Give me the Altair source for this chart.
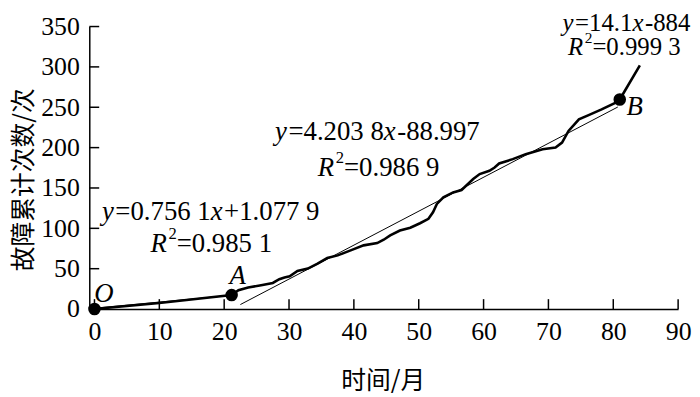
import altair as alt
import pandas as pd

# ---- data ----
months = [0, 10, 21.15, 22.2, 23.7, 25.7, 27.5, 28.5, 29.3, 30.1, 31.3, 32.9, 34.4,
          35.9, 37.5, 39.5, 41.5, 43.6, 44.6, 45.6, 47.1, 48.7, 50.2, 51.5, 52.2,
          52.8, 53.8, 55.3, 56.6, 57.3, 58.4, 59.4, 60.9, 61.7, 62.4, 64.5, 66.5,
          69.1, 71.1, 72.1, 73.1, 74.7, 76.2, 78.2, 80.3, 81.0, 84.1]
failures = [0, 7.5, 17.3, 23.4, 26.7, 29.6, 32.4, 37.0, 39.1, 40.7, 47.2, 50.2, 56.3,
            63.2, 66.5, 72.7, 78.9, 81.7, 85.9, 91.2, 97.3, 100.7, 106.3, 111.8, 119.9,
            130.3, 138.4, 144.5, 147.5, 152.8, 161.1, 167.2, 171.3, 175.4, 180.3, 185.7, 191.9,
            198.0, 200.0, 206.2, 220.6, 235.0, 240.3, 247.3, 255.5, 259.6, 301.9]

fit1_x = [0, 21.15]
fit1_y = [1.08, 17.07]
fit2_x = [22.5, 80.7]
fit2_y = [5.6, 250.3]

key_names = ["O", "A", "B"]
key_x = [0, 21.15, 81.0]
key_y = [0, 17.3, 259.6]

x_ticks = list(range(0, 91, 10))
y_ticks = list(range(0, 351, 50))

# ---- layout ----
W, H = 594, 285
SERIF = "Liberation Serif"
CJK = "Noto Sans CJK SC"

xscale = alt.Scale(domain=[-0.8, 90], nice=False, zero=False)
yscale = alt.Scale(domain=[0, 350], nice=False, zero=False)

line_df = pd.DataFrame({"month": months, "count": failures})
fit1_df = pd.DataFrame({"month": fit1_x, "count": fit1_y})
fit2_df = pd.DataFrame({"month": fit2_x, "count": fit2_y})
key_df = pd.DataFrame({"name": key_names, "month": key_x, "count": key_y})

X = alt.X("month:Q", scale=xscale,
          axis=alt.Axis(values=x_ticks, title="时间/月", titleX=296, titleY=72,
                        titleBaseline="middle", titleAlign="center", titleFontSize=25,
                        labelPadding=10, labelFlush=False))
Y = alt.Y("count:Q", scale=yscale,
          axis=alt.Axis(values=y_ticks, title="故障累计次数/次", titleX=-66, titleY=154,
                        titleAngle=-90, titleBaseline="middle", titleAlign="center",
                        titleFontSize=25, labelPadding=10, labelFlush=False))

main = alt.Chart(line_df).mark_line(color="black", strokeWidth=2.6).encode(x=X, y=Y)
fit1 = alt.Chart(fit1_df).mark_line(color="black", strokeWidth=1).encode(x=alt.X("month:Q", scale=xscale), y=alt.Y("count:Q", scale=yscale))
fit2 = alt.Chart(fit2_df).mark_line(color="black", strokeWidth=1).encode(x=alt.X("month:Q", scale=xscale), y=alt.Y("count:Q", scale=yscale))
dots = alt.Chart(key_df).mark_point(filled=True, color="black", size=160, opacity=1).encode(
    x=alt.X("month:Q", scale=xscale), y=alt.Y("count:Q", scale=yscale))

ytick_df = pd.DataFrame({"v": y_ticks})
xtick_df = pd.DataFrame({"v": x_ticks})
yticks = alt.Chart(ytick_df).mark_rule(color="black", strokeWidth=1.5).encode(
    y=alt.Y("v:Q", scale=yscale), x=alt.value(0), x2=alt.value(10))
xticks = alt.Chart(xtick_df).mark_rule(color="black", strokeWidth=1.5).encode(
    x=alt.X("v:Q", scale=xscale), y=alt.value(H), y2=alt.value(H - 10))

# ---- annotations (mixed italic / roman pieces) ----
RM = {**{str(d): 500 for d in range(10)}, ".": 250, " ": 250, "=": 564, "+": 564, "-": 333}
IT = {"y": 444, "x": 444, "R": 611}


def piece_width(text, style, size):
    if style == "it":
        return sum(IT.get(c, 500) for c in text) * size / 1000
    if style == "sup":
        return sum(RM.get(c, 500) for c in text) * size * 0.62 / 1000
    return sum(RM.get(c, 500) for c in text) * size / 1000


def equation(pieces, ax, ay, size=27):
    total = sum(piece_width(t, s, size) for t, s in pieces)
    off = -total / 2
    layers = []
    adf = pd.DataFrame({"month": [ax], "count": [ay]})
    for t, s in pieces:
        kw = dict(align="left", baseline="middle", font=SERIF, color="black", dx=off)
        if s == "it":
            kw.update(fontStyle="italic", fontSize=size)
        elif s == "sup":
            kw.update(fontSize=size * 0.62, dy=-size * 0.37)
        else:
            kw.update(fontSize=size)
        layers.append(alt.Chart(adf).mark_text(**kw).encode(
            x=alt.X("month:Q", scale=xscale), y=alt.Y("count:Q", scale=yscale),
            text=alt.value(t)))
        off += piece_width(t, s, size) + (1.5 if s == "it" else 0)
    return layers


ann = []
ann += equation([("y", "it"), ("=0.756 1", "rm"), ("x", "it"), ("+1.077 9", "rm")], 17.7, 120.4)
ann += equation([("R", "it"), ("2", "sup"), ("=0.985 1", "rm")], 17.9, 81.1)
ann += equation([("y", "it"), ("=4.203 8", "rm"), ("x", "it"), ("-88.997", "rm")], 43.4, 218.7)
ann += equation([("R", "it"), ("2", "sup"), ("=0.986 9", "rm")], 43.7, 174.4)
ann += equation([("y", "it"), ("=14.1", "rm"), ("x", "it"), ("-884", "rm")], 81.8, 354.5, size=25)
ann += equation([("R", "it"), ("2", "sup"), ("=0.999 3", "rm")], 81.6, 324.5, size=25)

lab_df = pd.DataFrame({"name": key_names, "month": [1.45, 22.1, 83.3], "count": [19.0, 41.2, 250.6]})
labels = alt.Chart(lab_df).mark_text(font=SERIF, fontStyle="italic", fontSize=27, color="black",
                                     baseline="middle", align="center").encode(
    x=alt.X("month:Q", scale=xscale), y=alt.Y("count:Q", scale=yscale), text="name:N")

chart = alt.layer(main, fit1, fit2, yticks, xticks, dots, labels, *ann).properties(
    width=W, height=H,
    autosize=alt.AutoSizeParams(type="none"),
    padding={"left": 82, "top": 17, "right": 14, "bottom": 85},
).configure_view(stroke=None).configure_axis(
    grid=False, ticks=False, tickSize=0, domainColor="black", domainWidth=1.5,
    labelFont=SERIF, labelFontSize=26, labelColor="black",
    titleFont=CJK, titleFontWeight="normal", titleColor="black",
)

chart.save("out.html", embed_options={"renderer": "svg", "actions": False})
